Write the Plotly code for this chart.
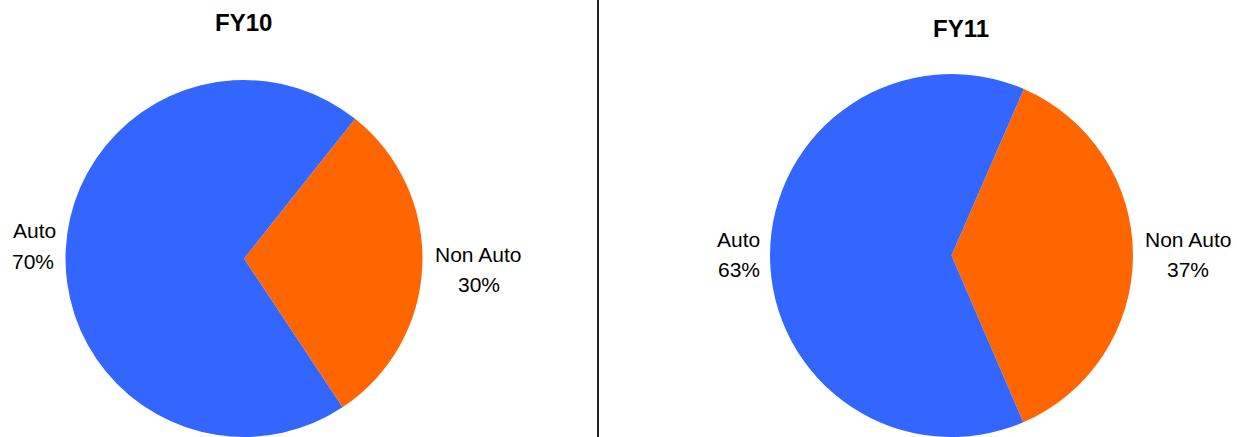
import plotly.graph_objects as go

W, H = 1237, 437

# Revenue split by segment
categories = ["Non Auto", "Auto"]
fy10_share = [30, 70]
fy11_share = [37, 63]
titles = ["FY10", "FY11"]
colors = ["#FF6600", "#3366FF"]


def px_x(x):
    return x / W


def px_y(y):
    return 1 - y / H


fig = go.Figure()

fig.add_trace(go.Pie(
    labels=categories, values=fy10_share, sort=False,
    direction="clockwise", rotation=38.5,
    marker=dict(colors=colors, line=dict(width=0)),
    textinfo="none", hoverinfo="label+percent", showlegend=False,
    domain=dict(x=[px_x(64), px_x(424)], y=[0, px_y(80)]),
))

fig.add_trace(go.Pie(
    labels=categories, values=fy11_share, sort=False,
    direction="clockwise", rotation=23.5,
    marker=dict(colors=colors, line=dict(width=0)),
    textinfo="none", hoverinfo="label+percent", showlegend=False,
    domain=dict(x=[px_x(770), px_x(1133)], y=[0, px_y(74)]),
))

label_font = dict(family="Liberation Sans, Arial, sans-serif", size=21, color="#000000")
title_font = dict(family="Liberation Sans, Arial, sans-serif", size=24, color="#000000")

annotations = []

def add_text(text, x, y, font):
    annotations.append(dict(
        text=text, x=px_x(x), y=px_y(y), xref="paper", yref="paper",
        xanchor="center", yanchor="middle", showarrow=False, font=font,
    ))

# Titles
add_text(f"<b>{titles[0]}</b>", 243, 23, title_font)
add_text(f"<b>{titles[1]}</b>", 961, 28, title_font)

# FY10 slice labels
add_text(categories[1], 34, 231, label_font)
add_text(f"{fy10_share[1]}%", 33, 261, label_font)
add_text(categories[0], 478, 254, label_font)
add_text(f"{fy10_share[0]}%", 479, 284, label_font)

# FY11 slice labels
add_text(categories[1], 739, 239, label_font)
add_text(f"{fy11_share[1]}%", 739, 269, label_font)
add_text(categories[0], 1188, 239, label_font)
add_text(f"{fy11_share[0]}%", 1188, 269, label_font)

fig.update_layout(
    width=W, height=H,
    margin=dict(l=0, r=0, t=0, b=0),
    paper_bgcolor="#FFFFFF", plot_bgcolor="#FFFFFF",
    annotations=annotations,
    shapes=[dict(
        type="line", xref="paper", yref="paper",
        x0=px_x(598), x1=px_x(598), y0=0, y1=1,
        line=dict(color="#222222", width=2),
    )],
)

fig.write_html("out.html")
